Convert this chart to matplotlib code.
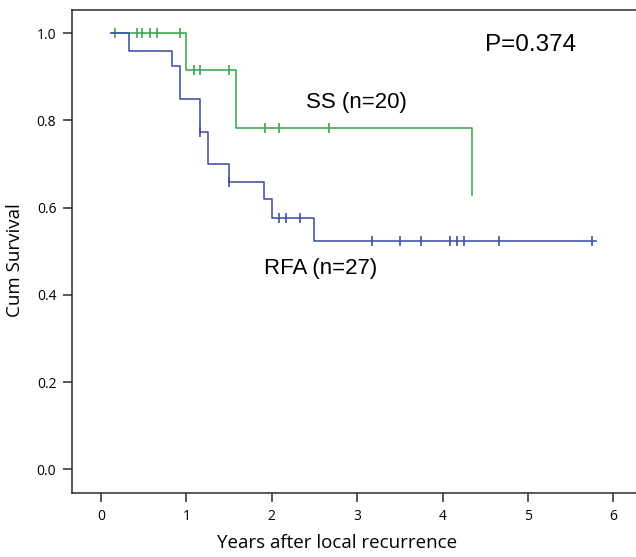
import numpy as np
import matplotlib.pyplot as plt

# Kaplan-Meier steps
ss_times = [0.12, 1.00, 1.58, 4.34]
ss_surv = [1.0, 0.916, 0.783, 0.628]
ss_cens = [0.16, 0.42, 0.48, 0.57, 0.66, 0.92, 1.09, 1.16, 1.50, 1.92, 2.08, 2.67]

rfa_times = [0.12, 0.33, 0.83, 0.92, 1.16, 1.25, 1.50, 1.91, 2.00, 2.50, 5.80]
rfa_surv = [1.0, 0.960, 0.925, 0.849, 0.774, 0.700, 0.660, 0.619, 0.577, 0.524, 0.524]
rfa_cens = [1.16, 1.50, 2.08, 2.17, 2.33, 3.17, 3.50, 3.75, 4.09, 4.17, 4.25, 4.66, 5.75]

x_ticks = [0, 1, 2, 3, 4, 5, 6]
y_ticks = [0.0, 0.2, 0.4, 0.6, 0.8, 1.0]

GREEN = '#3aa64c'
BLUE = '#3f4fa6'
AX_COL = '#2b2b2b'


def level_at(times, surv, t):
    i = np.searchsorted(times, t, side='right') - 1
    return np.asarray(surv)[i]


def km_curve(ax, times, surv, cens, color):
    ax.step(times, surv, where='post', color=color, lw=1.15)
    ax.plot(cens, level_at(times, surv, cens), ls='none', marker='|',
            ms=7, mew=1.2, color=color)


fig = plt.figure(figsize=(6.36, 5.57), dpi=100)
ax = fig.add_axes([0.1137, 0.1144, 0.8863, 0.8677])

km_curve(ax, ss_times, ss_surv, ss_cens, GREEN)
km_curve(ax, rfa_times, rfa_surv, rfa_cens, BLUE)

ax.set_xlim(-0.336, 6.265)
ax.set_ylim(-0.055, 1.0534)
ax.set_xticks(x_ticks)
ax.set_yticks(y_ticks)
ax.set_xticklabels([str(v) for v in x_ticks], family='Open Sans', fontsize=10)
ax.set_yticklabels([f'{v:.1f}' for v in y_ticks], family='Open Sans', fontsize=10)
ax.tick_params(direction='out', length=6.5, width=1.1, color=AX_COL, pad=5)

ax.spines['right'].set_visible(False)
for s in ['left', 'top', 'bottom']:
    ax.spines[s].set_color(AX_COL)
    ax.spines[s].set_linewidth(1.1)

ax.set_xlabel('Years after local recurrence', family='Open Sans', fontsize=13.5)
ax.set_ylabel('Cum Survival', family='Open Sans', fontsize=13.5)
ax.xaxis.set_label_coords(0.47, -0.085)
ax.yaxis.set_label_coords(-0.086, 0.483)

ax.text(4.50, 0.973, 'P=0.374', family='Liberation Sans', fontsize=17.5, ha='left', va='center')
ax.text(2.99, 0.842, 'SS (n=20)', family='Liberation Sans', fontsize=16, ha='center', va='center')
ax.text(2.576, 0.46, 'RFA (n=27)', family='Liberation Sans', fontsize=16, ha='center', va='center')

fig.savefig('out.png', dpi=100)
